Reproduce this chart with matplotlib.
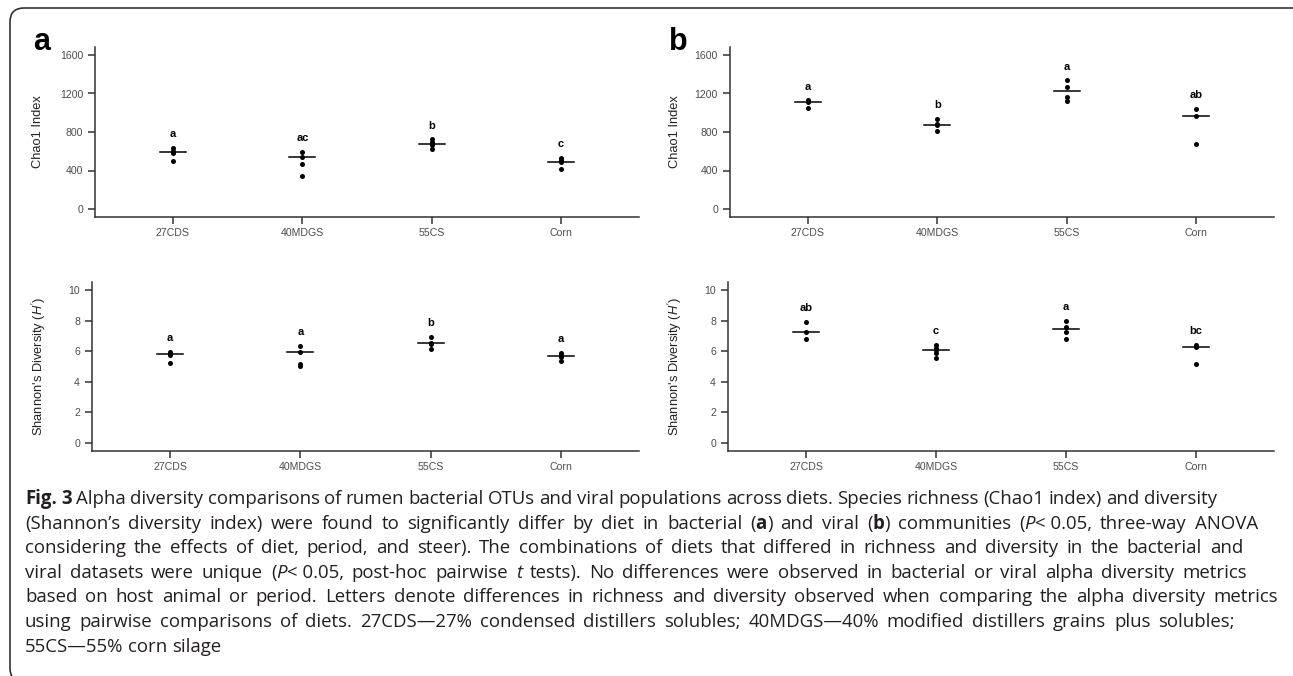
import re
import matplotlib.pyplot as plt
from matplotlib.patches import FancyBboxPatch
from matplotlib.transforms import IdentityTransform
from matplotlib.font_manager import FontProperties

plt.rcParams["font.family"] = ["Liberation Sans", "DejaVu Sans"]
plt.rcParams["mathtext.fontset"] = "custom"
plt.rcParams["mathtext.rm"] = "Liberation Sans"
plt.rcParams["mathtext.it"] = "Liberation Sans:italic"

diets = ["27CDS", "40MDGS", "55CS", "Corn"]

# Chao1 index, bacterial OTUs (a)
chao_bact = [[637, 600, 583, 499], [595, 543, 468, 343], [727, 699, 665, 623], [530, 505, 490, 416]]
chao_bact_line = [589, 540, 679, 492]
chao_bact_letters = ["a", "ac", "b", "c"]

# Chao1 index, viral populations (b)
chao_vir = [[1128, 1118, 1108, 1046], [938, 880, 868, 813], [1340, 1264, 1167, 1122], [1039, 963, 678]]
chao_vir_line = [1108, 869, 1223, 963]
chao_vir_letters = ["a", "b", "a", "ab"]

# Shannon diversity, bacterial (a)
shan_bact = [[5.95, 5.85, 5.77, 5.21], [6.34, 5.97, 5.18, 5.03], [6.91, 6.55, 6.50, 6.16], [5.86, 5.75, 5.64, 5.38]]
shan_bact_line = [5.80, 5.95, 6.52, 5.69]
shan_bact_letters = ["a", "a", "b", "a"]

# Shannon diversity, viral (b)
shan_vir = [[7.93, 7.25, 6.82], [6.41, 6.23, 6.08, 5.90, 5.54], [7.99, 7.60, 7.27, 6.80], [6.43, 6.25, 5.16]]
shan_vir_line = [7.25, 6.08, 7.43, 6.25]
shan_vir_letters = ["ab", "c", "a", "bc"]

chao_ticks = [0, 400, 800, 1200, 1600]
shan_ticks = [0, 2, 4, 6, 8, 10]

caption = [
    "{b:Fig. 3} Alpha diversity comparisons of rumen bacterial OTUs and viral populations across diets. Species richness (Chao1 index) and diversity",
    "(Shannon\u2019s diversity index) were found to significantly differ by diet in bacterial ({b:a}) and viral ({b:b}) communities ({i:P}<\u00a00.05, three-way ANOVA",
    "considering the effects of diet, period, and steer). The combinations of diets that differed in richness and diversity in the bacterial and",
    "viral datasets were unique ({i:P}<\u00a00.05, post-hoc pairwise {i:t} tests). No differences were observed in bacterial or viral alpha diversity metrics",
    "based on host animal or period. Letters denote differences in richness and diversity observed when comparing the alpha diversity metrics",
    "using pairwise comparisons of diets. 27CDS\u201427% condensed distillers solubles; 40MDGS\u201440% modified distillers grains plus solubles;",
    "55CS\u201455% corn silage",
]
caption_right = [1217, 1258, 1243, 1247, 1278, 1235, None]

W, H = 1293, 676
fig = plt.figure(figsize=(W / 100, H / 100), dpi=100)
pix = IdentityTransform()


def box(l, t, r, b):
    return [l / W, 1 - b / H, (r - l) / W, (b - t) / H]


def panel(rect, values, centers, letters, ticks, ylabel, label_x, offset):
    ax = fig.add_axes(rect)
    for i, vals in enumerate(values):
        ax.scatter([i] * len(vals), vals, s=13, color="black", linewidths=0, zorder=3)
        ax.plot([i - 0.1, i + 0.1], [centers[i]] * 2, color="black", lw=1.1, zorder=2)
        ax.annotate(letters[i], (i, max(vals)), xytext=(0, offset), textcoords="offset pixels",
                    ha="center", va="center", fontsize=8, fontweight="bold")
    span = ticks[-1] - ticks[0]
    ax.set_ylim(ticks[0] - 0.05 * span, ticks[-1] + 0.05 * span)
    ax.set_xlim(-0.6, len(diets) - 0.4)
    ax.set_xticks(range(len(diets)))
    ax.set_xticklabels(diets)
    ax.set_yticks(ticks)
    for s in ["top", "right"]:
        ax.spines[s].set_visible(False)
    for s in ["left", "bottom"]:
        ax.spines[s].set_color("#333333")
        ax.spines[s].set_linewidth(1.1)
    ax.tick_params(length=4.7, width=1.1, color="#333333", labelcolor="#4d4d4d", labelsize=7.6)
    ax.tick_params(axis="x", pad=3.5)
    ax.tick_params(axis="y", pad=4)
    bb = ax.get_position()
    fig.text(label_x / W, bb.y0 + bb.height / 2, ylabel, rotation=90, ha="center", va="center",
             fontsize=9.3, color="#222222")
    return ax


shan_label = r"Shannon's Diversity ($\mathit{H'}$)"
panel(box(95.4, 47.3, 638.6, 216.7), chao_bact, chao_bact_line, chao_bact_letters, chao_ticks, "Chao1 Index", 38, 13.5)
panel(box(730, 47.3, 1274, 216.7), chao_vir, chao_vir_line, chao_vir_letters, chao_ticks, "Chao1 Index", 675, 13.5)
panel(box(92, 282.4, 639, 450.7), shan_bact, shan_bact_line, shan_bact_letters, shan_ticks, shan_label, 39, 14)
panel(box(728, 282.4, 1274, 450.7), shan_vir, shan_vir_line, shan_vir_letters, shan_ticks, shan_label, 675, 14)

fig.text(33, H - 50, "a", transform=pix, fontsize=22, fontweight="bold", va="baseline")
fig.text(669, H - 50, "b", transform=pix, fontsize=22, fontweight="bold", va="baseline")

# rounded frame round the whole figure
frame = FancyBboxPatch((10, -6), 1300, H - 8 + 6, boxstyle="round,pad=0,rounding_size=14",
                       transform=pix, fill=False, edgecolor="#333333", lw=1.2)
fig.patches.append(frame)

# caption, set word by word so that lines can be spread out
renderer = fig.canvas.get_renderer()
cap_font = "Open Sans"


def make_props(size):
    return {
        "n": FontProperties(family=cap_font, size=size),
        "b": FontProperties(family=cap_font, size=size, weight="bold"),
        "i": FontProperties(family=cap_font, size=size, style="italic"),
    }


def parse(line):
    words = [[]]
    for m in re.finditer(r"\{(\w):([^}]*)\}|([^{]+)", line):
        if m.group(3) is not None:
            style, txt = "n", m.group(3)
        else:
            style, txt = m.group(1), m.group(2)
        for k, p in enumerate(txt.split(" ")):
            if k > 0:
                words.append([])
            if p:
                words[-1].append((p, style))
    return [w for w in words if w]


def width(txt, style, props):
    t = fig.text(0, 0, txt, fontproperties=props[style], transform=pix)
    w = t.get_window_extent(renderer).width
    t.remove()
    return w


x0 = 25
# size the caption so the first line sets naturally to its right edge
base = 12
props = make_props(base)
words1 = parse(caption[0])
space = width("a a", "n", props) - width("aa", "n", props)
nat1 = sum(width(p, s, props) for w in words1 for p, s in w) + space * (len(words1) - 1)
cap_size = base * (caption_right[0] - x0) / nat1
props = make_props(cap_size)
space = width("a a", "n", props) - width("aa", "n", props)

for k, line in enumerate(caption):
    y = H - (504 + 24.6 * k)
    words = parse(line)
    widths = [sum(width(p, s, props) for p, s in w) for w in words]
    gap = space
    if caption_right[k] is not None:
        gap = max(2, (caption_right[k] - x0 - sum(widths)) / (len(words) - 1))
    x = x0
    for w in words:
        for p, s in w:
            fig.text(x, y, p, fontproperties=props[s], transform=pix, va="baseline", color="#231f20")
            x += width(p, s, props)
        x += gap

fig.savefig("out.png", dpi=100)
